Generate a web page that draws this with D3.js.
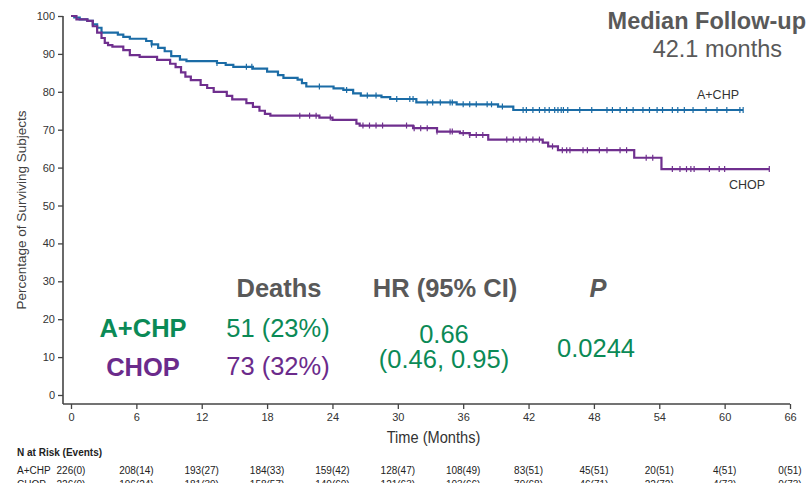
<!doctype html>
<html lang="en">
<head>
<meta charset="utf-8">
<script src="https://d3js.org/d3.v7.min.js"></script>
<style>
  body { margin: 0; background: #fff; }
  svg { display: block; font-family: "Liberation Sans", Arial, sans-serif; }
</style>
</head>
<body>
<div id="viz"></div>
<script>

// Kaplan-Meier steps: time of drop (months) and survival (%) after it
const acpT = [0, 0.3, 0.8, 1.5, 2.0, 2.4, 2.8, 4.3, 4.8, 5.4, 6.9, 7.4, 8.0, 8.6, 9.2, 10.0, 10.6, 13.4, 14.2, 14.9,
              16.7, 18.0, 19.0, 19.5, 20.8, 21.2, 21.6, 24.1, 25.0, 25.9, 26.6, 28.5, 29.3, 31.7, 35.4, 39.2, 40.6];
const acpS = [100, 99.6, 99.1, 98.7, 97.8, 96.9, 95.6, 95.1, 94.5, 94.0, 93.4, 92.5, 91.6, 90.7, 89.4, 88.5, 88.1, 87.6, 87.1, 86.6,
              86.1, 85.3, 84.4, 83.7, 83.2, 82.3, 81.4, 80.9, 80.5, 79.6, 79.0, 78.6, 78.1, 77.2, 76.7, 76.1, 75.2];
const acpEnd = 61.7;

const chopT = [0, 0.5, 1.5, 2.0, 2.4, 2.8, 3.1, 3.4, 3.8, 4.8, 5.4, 6.3, 7.9, 9.1, 9.6, 10.1, 10.5, 11.0, 11.9, 12.5,
               13.1, 14.3, 14.8, 16.1, 16.7, 17.3, 17.8, 18.3, 22.8, 24.0, 26.2, 26.5, 31.4, 33.6, 35.7, 36.6, 38.3,
               43.3, 43.8, 44.7, 51.7, 54.2];
const chopS = [100, 99.1, 98.7, 97.3, 95.6, 94.2, 92.9, 92.3, 91.9, 91.0, 89.7, 89.2, 88.4, 87.4, 86.5, 85.1, 84.0, 83.1, 81.8, 81.0,
               80.0, 78.9, 78.0, 77.0, 76.0, 75.0, 74.2, 73.7, 73.2, 72.6, 71.6, 71.1, 70.4, 69.5, 69.1, 68.6, 67.4,
               66.6, 65.6, 64.6, 62.6, 59.6];
const chopEnd = 64.1;

// censoring times (months)
const acpCens = [7.4, 13.4, 16.1, 16.6, 22.8, 25.3, 27.2, 28.0, 29.9, 31.1, 31.4, 32.7, 33.2, 33.9, 34.8, 35.0, 36.0, 36.6,
                 37.2, 38.2, 38.6, 39.6, 41.5, 41.8, 42.4, 43.0, 43.5, 43.9, 44.4, 44.7, 45.0, 45.2, 45.6, 46.7, 47.8,
                 49.2, 49.7, 50.4, 51.0, 51.6, 52.5, 53.1, 53.8, 54.3, 55.2, 55.7, 56.3, 57.1, 58.3, 59.3, 60.2, 61.4];
const chopCens = [21.0, 21.9, 22.5, 23.8, 26.8, 27.4, 28.0, 28.6, 30.8, 31.5, 32.1, 32.7, 33.6, 34.8, 35.0, 36.0, 36.6,
                  37.2, 37.8, 40.0, 40.6, 41.2, 41.8, 42.4, 43.0, 44.2, 45.1, 45.5, 45.8, 47.0, 47.4, 48.5, 49.2, 50.4,
                  51.0, 52.8, 53.4, 55.2, 55.9, 56.5, 56.9, 57.2, 58.6, 59.5, 60.0];

const xTicks = [0, 6, 12, 18, 24, 30, 36, 42, 48, 54, 60, 66];
const yTicks = [0, 10, 20, 30, 40, 50, 60, 70, 80, 90, 100];

// N at risk (events) at each x tick
const riskACP  = ["226(0)", "208(14)", "193(27)", "184(33)", "159(42)", "128(47)", "108(49)", "83(51)", "45(51)", "20(51)", "4(51)", "0(51)"];
const riskCHOP = ["226(0)", "196(24)", "181(39)", "158(57)", "140(60)", "121(63)", "103(66)", "79(68)", "46(71)", "22(72)", "4(73)", "0(73)"];

const blue = "#1b6ca6", purple = "#6f2f8e";
const greenTxt = "#0b8a56", purpleTxt = "#6b2b8b", grayTxt = "#595959", axisCol = "#444";

const width = 807, height = 483;
const x = d3.scaleLinear().domain([0, 66]).range([71, 790]);
const y = d3.scaleLinear().domain([0, 100]).range([395, 16]);
const axisY = 404, axisX = 63;

const svg = d3.select("#viz").append("svg")
    .attr("width", width).attr("height", height);

// y axis
const gy = svg.append("g")
    .attr("transform", `translate(${axisX},0)`)
    .call(d3.axisLeft(y).tickValues(yTicks).tickSize(5).tickSizeOuter(0));
gy.select(".domain").remove();
gy.append("line").attr("y1", y(100)).attr("y2", axisY).attr("stroke", axisCol).attr("stroke-width", 1.6);
gy.selectAll(".tick line").attr("stroke", axisCol).attr("stroke-width", 1.3);
gy.selectAll(".tick text").attr("fill", "#333").style("font-size", "11px").attr("x", -8);

// x axis
const gx = svg.append("g")
    .attr("transform", `translate(0,${axisY})`)
    .call(d3.axisBottom(x).tickValues(xTicks).tickSize(5).tickSizeOuter(0));
gx.select(".domain").remove();
gx.append("line").attr("x1", axisX).attr("x2", x(66)).attr("stroke", axisCol).attr("stroke-width", 1.6);
gx.selectAll(".tick line").attr("stroke", axisCol).attr("stroke-width", 1.3);
gx.selectAll(".tick text").attr("fill", "#333").style("font-size", "11px").attr("y", 9);

svg.append("text")
    .attr("transform", `translate(26,${(y(100) + axisY) / 2}) rotate(-90)`)
    .attr("text-anchor", "middle").attr("fill", "#404040")
    .style("font-size", "13.5px")
    .text("Percentage of Surviving Subjects");

// condensed look for the axis title
svg.append("text")
    .attr("transform", `translate(${(x(0) + x(66)) / 2 + 3},443) scale(0.86,1)`)
    .attr("text-anchor", "middle").attr("fill", "#333")
    .style("font-size", "17px")
    .text("Time (Months)");

// KM curves
function drawCurve(ts, ss, end, cens, color) {
  const pts = ts.map((t, i) => [t, ss[i]]);
  pts.push([end, ss[ss.length - 1]]);
  svg.append("path")
      .datum(pts)
      .attr("fill", "none")
      .attr("stroke", color)
      .attr("stroke-width", 2.2)
      .attr("d", d3.line().x(d => x(d[0])).y(d => y(d[1])).curve(d3.curveStepAfter));
  const surv = t => ss[d3.bisectRight(ts, t) - 1];
  svg.append("g").selectAll("line")
      .data(cens.concat([end]))
      .join("line")
      .attr("x1", d => x(d)).attr("x2", d => x(d))
      .attr("y1", d => y(surv(d)) - 3).attr("y2", d => y(surv(d)) + 3)
      .attr("stroke", color).attr("stroke-width", 1.2);
}
drawCurve(acpT, acpS, acpEnd, acpCens, blue);
drawCurve(chopT, chopS, chopEnd, chopCens, purple);

svg.append("text").attr("x", 718).attr("y", 99).attr("text-anchor", "middle")
    .attr("fill", "#333").style("font-size", "12.5px").text("A+CHP");
svg.append("text").attr("x", 747).attr("y", 189).attr("text-anchor", "middle")
    .attr("fill", "#333").style("font-size", "12.5px").text("CHOP");

// median follow-up
svg.append("text").attr("x", 806).attr("y", 29).attr("text-anchor", "end")
    .attr("fill", grayTxt).style("font-size", "23.5px").style("font-weight", "bold")
    .text("Median Follow-up");
svg.append("text").attr("x", 782).attr("y", 57).attr("text-anchor", "end")
    .attr("fill", grayTxt).style("font-size", "23.5px")
    .text("42.1 months");

// summary table
function txt(xp, yp, s, color, weight, style) {
  svg.append("text").attr("x", xp).attr("y", yp).attr("text-anchor", "middle")
      .attr("fill", color).style("font-size", "25.5px")
      .style("font-weight", weight || "normal").style("font-style", style || "normal")
      .text(s);
}
txt(279, 297, "Deaths", grayTxt, "bold");
txt(445, 297, "HR (95% CI)", grayTxt, "bold");
txt(598, 297, "P", grayTxt, "bold", "italic");
txt(143, 337, "A+CHP", greenTxt, "bold");
txt(143, 376, "CHOP", purpleTxt, "bold");
txt(278, 337, "51 (23%)", greenTxt);
txt(278, 375, "73 (32%)", purpleTxt);
txt(444, 343, "0.66", greenTxt);
txt(444, 368, "(0.46, 0.95)", greenTxt);
txt(596, 357, "0.0244", greenTxt);

// N at risk table
svg.append("text").attr("x", 17).attr("y", 456)
    .attr("fill", "#222").style("font-size", "10px").style("font-weight", "bold")
    .text("N at Risk (Events)");
const riskRows = [["A+CHP", riskACP, 474], ["CHOP", riskCHOP, 488]];
riskRows.forEach(([name, vals, yp]) => {
  svg.append("text").attr("x", 17).attr("y", yp)
      .attr("fill", "#222").style("font-size", "10px").text(name);
  svg.append("g").selectAll("text")
      .data(vals)
      .join("text")
      .attr("x", (d, i) => x(xTicks[i]))
      .attr("y", yp)
      .attr("text-anchor", "middle")
      .attr("fill", "#222").style("font-size", "10px")
      .text(d => d);
});

</script>
</body>
</html>
